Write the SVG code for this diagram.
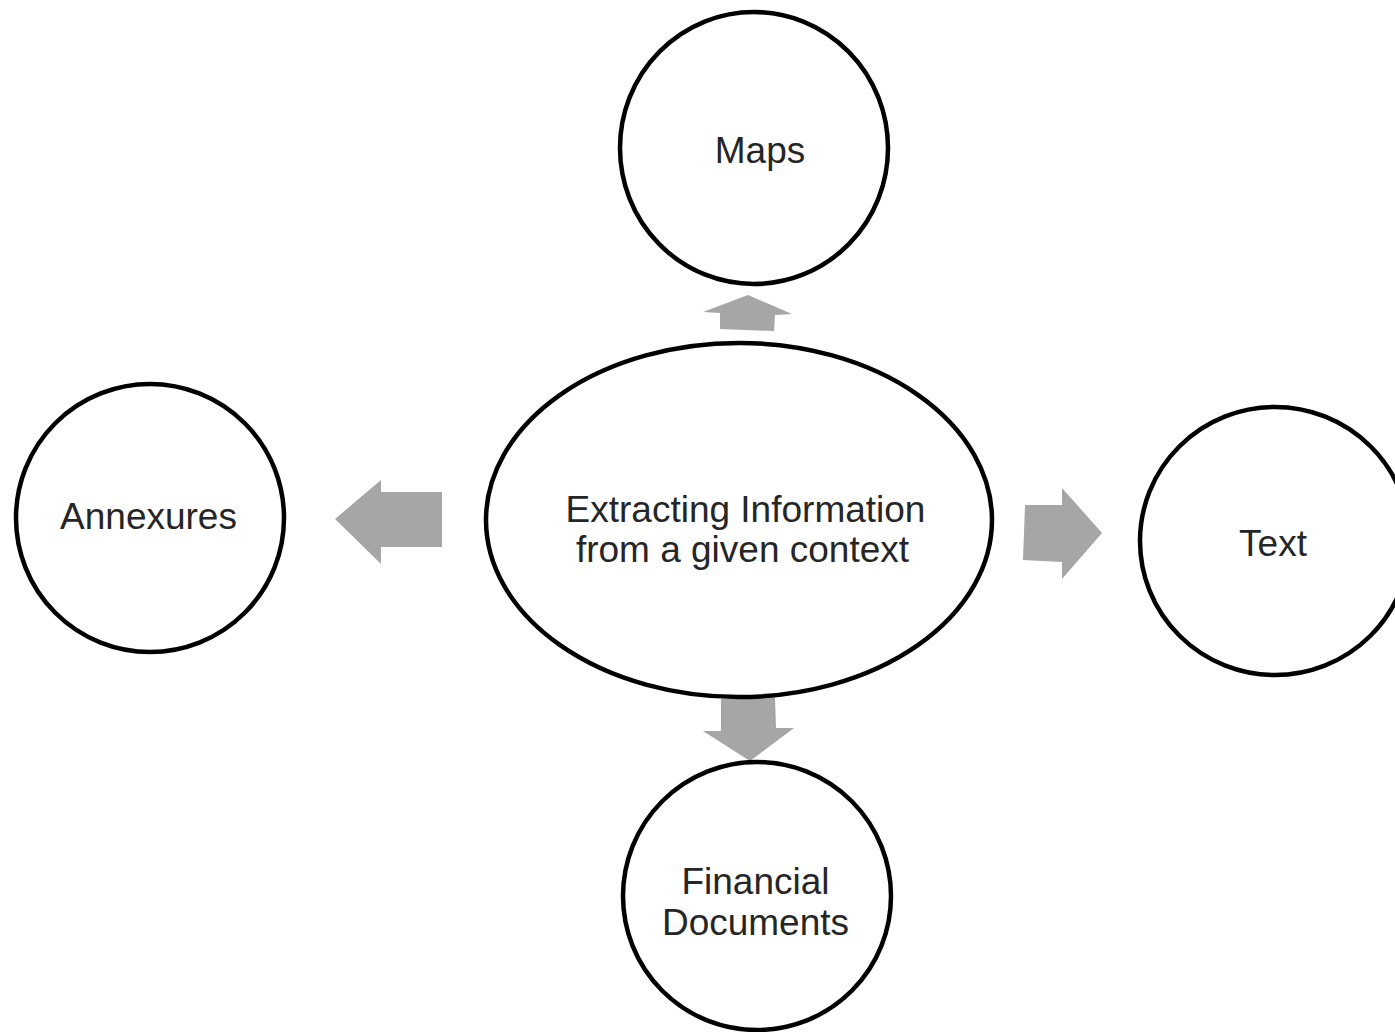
<svg xmlns="http://www.w3.org/2000/svg" width="1395" height="1032" viewBox="0 0 1395 1032">
  <style>
    .node { fill: #ffffff; stroke: #000000; stroke-width: 4.5; }
    .label { font-family: "Liberation Sans", Arial, sans-serif; font-size: 37px; fill: #262626; text-anchor: middle; }
    .arrow { fill: #a6a6a6; stroke: none; }
  </style>
  <rect width="1395" height="1032" fill="#ffffff"/>

  <!-- block arrows pointing out from the central idea -->
  <g id="connectors">
    <polygon class="arrow" points="748,295 792,314 775,315 774,331 720,329 720,313 703,312"/>
    <polygon class="arrow" points="335,519 381,480 381,492 442,492 442,547 381,547 381,564"/>
    <polygon class="arrow" points="1102,533 1062,579 1062,562 1023,560 1025,505 1062,505 1062,488"/>
    <polygon class="arrow" points="750,761 794,728 776,728 775,697 721,699 721,731 703,731"/>
  </g>

  <g id="center">
    <ellipse class="node" cx="739" cy="520" rx="253" ry="177"/>
    <text class="label" x="745.5" y="522">Extracting Information</text>
    <text class="label" x="742.5" y="562">from a given context</text>
  </g>

  <g id="maps">
    <ellipse class="node" cx="754" cy="148" rx="134" ry="136"/>
    <text class="label" x="760" y="163">Maps</text>
  </g>

  <g id="annexures">
    <ellipse class="node" cx="150" cy="518" rx="134" ry="134"/>
    <text class="label" x="148.5" y="529">Annexures</text>
  </g>

  <g id="text">
    <ellipse class="node" cx="1275" cy="541" rx="135" ry="134"/>
    <text class="label" x="1273" y="556">Text</text>
  </g>

  <g id="financial">
    <ellipse class="node" cx="757" cy="896" rx="134" ry="134"/>
    <text class="label" x="755.5" y="894">Financial</text>
    <text class="label" x="755.5" y="935">Documents</text>
  </g>
</svg>
